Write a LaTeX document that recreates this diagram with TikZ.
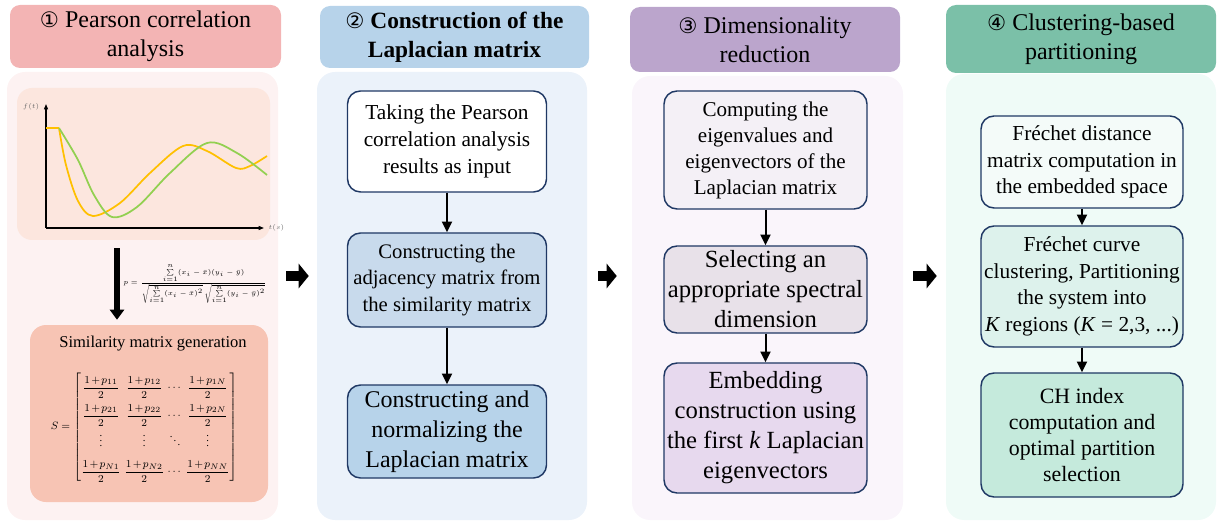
\documentclass[tikz,border=0pt]{standalone}
\usepackage{amsmath}
\usepackage{fontspec}
\setmainfont{Liberation Serif}
\newfontfamily\circfont{DejaVu Sans}
\usetikzlibrary{arrows.meta}

\newlength{\pix}\setlength{\pix}{0.75pt}
\newcommand{\stepno}[1]{{\normalfont\circfont\fontsize{16}{22}\selectfont #1}}

% panel colours
\definecolor{hdrA}{RGB}{243,180,180}
\definecolor{bodyA}{RGB}{253,242,242}
\definecolor{chartbg}{RGB}{252,230,222}
\definecolor{simbg}{RGB}{247,196,180}
\definecolor{hdrB}{RGB}{183,211,234}
\definecolor{bodyB}{RGB}{235,242,250}
\definecolor{boxBa}{RGB}{255,255,255}
\definecolor{boxBb}{RGB}{200,218,236}
\definecolor{boxBc}{RGB}{183,211,234}
\definecolor{hdrC}{RGB}{187,165,204}
\definecolor{bodyC}{RGB}{250,245,251}
\definecolor{boxCa}{RGB}{244,240,246}
\definecolor{boxCb}{RGB}{232,225,233}
\definecolor{boxCc}{RGB}{231,217,238}
\definecolor{hdrD}{RGB}{123,192,168}
\definecolor{bodyD}{RGB}{239,251,247}
\definecolor{boxDa}{RGB}{244,251,249}
\definecolor{boxDb}{RGB}{221,242,236}
\definecolor{boxDc}{RGB}{197,234,220}
\definecolor{boxline}{RGB}{31,56,100}
\definecolor{yelcurve}{RGB}{255,192,0}
\definecolor{grncurve}{RGB}{146,208,80}

\begin{document}
\begin{tikzpicture}[x=0.75pt, y=-0.75pt,
  panel/.style={rounded corners=18\pix, inner sep=0pt},
  header/.style={rounded corners=10\pix, inner sep=0pt, align=center, font=\fontsize{18}{22}\selectfont},
  stepbox/.style={draw=boxline, line width=1.1pt, rounded corners=13\pix, inner sep=0pt, align=center},
  link/.style={-{Triangle[length=8pt,width=7.5pt]}, line width=1.5pt},
  bigarrow/.style={-{Triangle[length=7.5pt,width=10.5pt]}, line width=4.5pt},
  blockarrow/.style={-{Triangle[length=7.5pt,width=18pt]}, line width=8pt},
  curve/.style={line width=1.3pt, smooth, tension=0.55}]

\useasboundingbox (0,0) rectangle (1217,527);

% panel bodies and headers
\node[panel, fill=bodyA, minimum width=271\pix, minimum height=448\pix] (body1) at (142.5,296) {};
\node[panel, fill=bodyB, minimum width=270\pix, minimum height=448\pix] (body2) at (452,296) {};
\node[panel, fill=bodyC, minimum width=271\pix, minimum height=444\pix] (body3) at (767.5,298) {};
\node[panel, fill=bodyD, minimum width=270\pix, minimum height=446\pix] (body4) at (1081,297) {};

\node[header, fill=hdrA, minimum width=271\pix, minimum height=63\pix] (head1) at (145.5,36.5) {\stepno{①} Pearson correlation\\analysis};
\node[header, fill=hdrB, minimum width=269\pix, minimum height=62\pix, font=\fontsize{17.5}{22}\selectfont\bfseries] (head2) at (454.5,37) {\stepno{②} Construction of the\\Laplacian matrix};
\node[header, fill=hdrC, minimum width=270\pix, minimum height=65\pix] (head3) at (765,39.5) {\stepno{③} Dimensionality\\reduction};
\node[header, fill=hdrD, minimum width=270\pix, minimum height=68\pix] (head4) at (1081,39) {\stepno{④} Clustering-based\\partitioning};

% panel 1: curves, formula and similarity matrix
\node[panel, fill=chartbg, minimum width=253\pix, minimum height=152\pix, rounded corners=15\pix] (chart) at (143.5,164) {};
\draw[-{Triangle[length=4pt,width=3pt]}, line width=0.9pt] (46,228) -- (46,104);
\draw[-{Triangle[length=4pt,width=3pt]}, line width=0.9pt] (46,228) -- (264,228);
\node[font=\fontsize{3.5}{4}\selectfont, text=black!60, anchor=east] (ylabel) at (44,107) {$f(t)$};
\node[font=\fontsize{3.5}{4}\selectfont, text=black!60, anchor=west] (xlabel) at (264,228) {$t(s)$};
\draw[line width=1.3pt, yelcurve] (46,128) -- (59,128);
\draw[curve, yelcurve] plot coordinates {(59,128) (66,165) (78,201) (93,216) (120,203) (150,173) (183,146) (207,151) (236,168) (250,166) (267,156)};
\draw[curve, grncurve] plot coordinates {(59,128) (78,160) (94,195) (112,217) (137,207) (170,173) (207,143) (237,153) (267,175)};

\node[font=\fontsize{4.8}{6}\selectfont] (pearson) at (195,284)
  {$p=\dfrac{\sum\limits_{i=1}^{n}(x_i-\bar{x})(y_i-\bar{y})}{\sqrt{\sum\limits_{i=1}^{n}(x_i-\bar{x})^2}\,\sqrt{\sum\limits_{i=1}^{n}(y_i-\bar{y})^2}}$};

\node[panel, fill=simbg, minimum width=238\pix, minimum height=177\pix, rounded corners=16\pix] (simbox) at (149,413.5) {};
\node[font=\fontsize{12.4}{14}\selectfont] (simtitle) at (153,344) {Similarity matrix generation};
\node[font=\fontsize{8}{10}\selectfont] (simmat) at (144,427)
  {\setlength{\arraycolsep}{1.2pt}\renewcommand{\arraystretch}{2.1}\medmuskip=2mu$S=\begin{bmatrix}
  \dfrac{1+p_{11}}{2} & \dfrac{1+p_{12}}{2} & \cdots & \dfrac{1+p_{1N}}{2}\\
  \dfrac{1+p_{21}}{2} & \dfrac{1+p_{22}}{2} & \cdots & \dfrac{1+p_{2N}}{2}\\
  \vdots & \vdots & \ddots & \vdots\\
  \dfrac{1+p_{N1}}{2} & \dfrac{1+p_{N2}}{2} & \cdots & \dfrac{1+p_{NN}}{2}
  \end{bmatrix}$};

\coordinate (downx) at (117,0);
\draw[bigarrow, shorten <=8\pix, shorten >=5\pix] (chart.south -| downx) -- (simbox.north -| downx);

% panel 2
\node[stepbox, fill=boxBa, minimum width=199\pix, minimum height=101\pix, font=\fontsize{16}{20}\selectfont] (p2a) at (447,141.5) {Taking the Pearson\\correlation analysis\\results as input};
\node[stepbox, fill=boxBb, minimum width=199\pix, minimum height=94\pix, font=\fontsize{15.5}{20}\selectfont] (p2b) at (447,280) {Constructing the\\adjacency matrix from\\the similarity matrix};
\node[stepbox, fill=boxBc, minimum width=199\pix, minimum height=93\pix, font=\fontsize{18}{22.5}\selectfont] (p2c) at (447,431.5) {Constructing and\\normalizing the\\Laplacian matrix};
\draw[link] (p2a) -- (p2b);
\draw[link] (p2b) -- (p2c);

% panel 3
\node[stepbox, fill=boxCa, minimum width=203\pix, minimum height=118\pix, font=\fontsize{15.8}{19.5}\selectfont] (p3a) at (765.5,150) {Computing the\\eigenvalues and\\eigenvectors of the\\Laplacian matrix};
\node[stepbox, fill=boxCb, minimum width=203\pix, minimum height=87\pix, font=\fontsize{18.5}{22.5}\selectfont] (p3b) at (765.5,289.5) {Selecting an\\appropriate spectral\\dimension};
\node[stepbox, fill=boxCc, minimum width=203\pix, minimum height=130\pix, font=\fontsize{18.5}{22.5}\selectfont] (p3c) at (765.5,428) {Embedding\\construction using\\the first \textit{k} Laplacian\\eigenvectors};
\draw[link] (p3a) -- (p3b);
\draw[link] (p3b) -- (p3c);

% panel 4
\node[stepbox, fill=boxDa, minimum width=202\pix, minimum height=92\pix, font=\fontsize{16}{20}\selectfont] (p4a) at (1082,162) {Fréchet distance\\matrix computation in\\the embedded space};
\node[stepbox, fill=boxDb, minimum width=202\pix, minimum height=121\pix, font=\fontsize{16}{20}\selectfont] (p4b) at (1082,286.5) {Fréchet curve\\clustering, Partitioning\\the system into\\\textit{K} regions (\textit{K} = 2,3, ...)};
\node[stepbox, fill=boxDc, minimum width=202\pix, minimum height=124\pix, font=\fontsize{16.4}{19.5}\selectfont] (p4c) at (1082,435) {CH index\\computation and\\optimal partition\\selection};
\draw[link] (p4a) -- (p4b);
\draw[link] (p4b) -- (p4c);

% arrows between the panels
\coordinate (arrowrow) at (0,276);
\draw[blockarrow, shorten <=8\pix, shorten >=8\pix] (body1.east |- arrowrow) -- (body2.west |- arrowrow);
\draw[blockarrow, shorten <=11\pix, shorten >=15\pix] (body2.east |- arrowrow) -- (body3.west |- arrowrow);
\draw[blockarrow, shorten <=10\pix, shorten >=9\pix] (body3.east |- arrowrow) -- (body4.west |- arrowrow);
\end{tikzpicture}
\end{document}
